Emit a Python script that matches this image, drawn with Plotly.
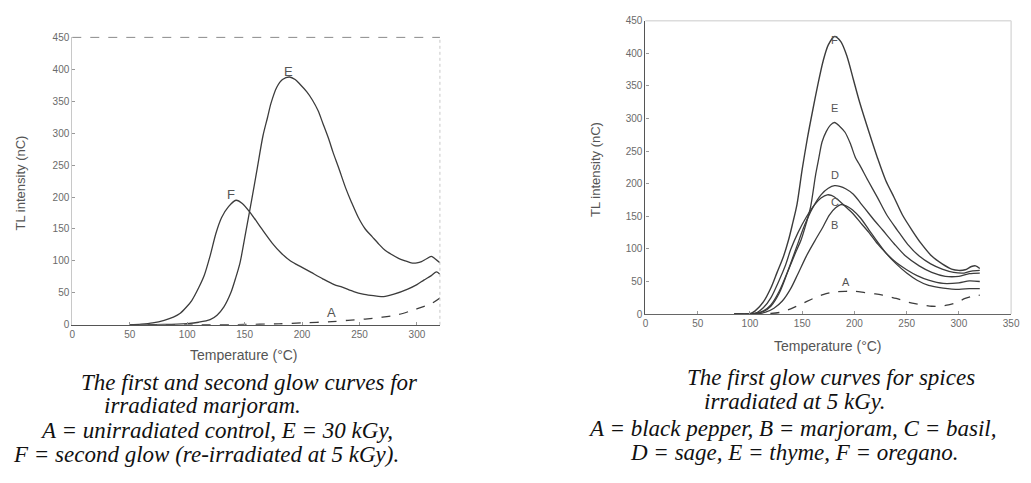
import plotly.graph_objects as go

# ---------------- Left panel: marjoram (first & second glow) ----------------
left_E_T = [50, 80, 100, 110, 120, 126, 132, 138, 142, 146, 151, 156, 161, 166, 170, 173, 178, 183, 189,
            194, 198, 204, 209, 214, 218, 223, 227, 232, 238, 243, 249, 255, 261, 267, 272, 278, 284, 290,
            295, 300, 304, 308, 312.5, 316, 320]
left_E_V = [0, 0.5, 2, 4, 8, 15, 28, 50, 72, 97, 145, 194, 245, 296, 325, 347, 372, 384, 388,
            384, 377, 365, 352, 335, 316, 292, 270, 245, 214, 192, 168, 150, 138, 126, 117, 110, 104, 100,
            97, 97, 99, 103, 107, 103, 97]

left_F_T = [50, 60, 70, 80, 88, 94, 99, 104, 110, 115, 120, 125, 130, 136, 142.5, 148, 156, 165, 174, 182,
            190, 200, 208, 218, 228, 235, 245, 253, 260, 265, 271, 280, 292, 300, 306, 312.5, 317, 320]
left_F_V = [0, 1, 3, 7, 12, 18, 27, 38, 58, 78, 108, 143, 168, 185, 195, 190, 173, 150, 128, 112,
            100, 90, 82, 72, 63, 59, 52, 48, 46, 45, 44, 48, 56, 63, 70, 77, 83, 79]

left_A_T = [50, 100, 150, 180, 200, 226, 240, 255, 270, 284, 295, 305, 312.5, 320]
left_A_V = [0, 0, 0.5, 1.5, 3, 5, 7, 9, 12, 16, 22, 28, 33, 42]

left_labels = ["E", "F", "A"]
left_label_T = [188, 138, 226]
left_label_V = [397, 204, 19]

# ---------------- Right panel: spices at 5 kGy ----------------
right_F_T = [85, 100, 105, 113, 120, 126, 132, 137, 141, 145, 150, 155, 160, 165, 170, 175, 181, 187, 193,
             199, 205, 214, 222, 230, 238, 246, 255, 264, 274, 284, 293, 300, 306, 312, 316, 320]
right_F_V = [0, 0.5, 5, 19, 40, 64, 88, 114, 140, 168, 222, 270, 312, 352, 388, 413, 426, 418, 395,
             360, 325, 279, 240, 205, 179, 152, 129, 108, 89, 77, 69, 67, 68, 73, 74, 70]

right_E_T = [85, 95, 105, 113, 120, 128, 136, 143, 149, 154, 158, 163, 166, 169, 173, 177, 181, 186, 191,
             196, 201, 205, 213, 222, 231, 241, 251, 262, 273, 284, 295, 305, 312, 320]
right_E_V = [0, 0, 1, 4, 12, 32, 64, 92, 114, 140, 164, 215, 240, 264, 280, 290, 294, 288, 279,
             262, 240, 229, 205, 179, 152, 129, 107, 89, 77, 69, 64, 63, 66, 67]

right_D_T = [85, 95, 105, 113, 120, 128, 136, 144, 152, 160, 168, 175, 181, 186, 192, 199, 206, 214, 220,
             227, 238, 249, 262, 274, 287, 300, 310, 320]
right_D_V = [0, 0, 1, 5, 14, 35, 65, 100, 135, 163, 183, 193, 197, 196, 192, 184, 170, 154, 142,
             129, 108, 89, 74, 64, 58, 58, 62, 63]

right_C_T = [85, 95, 105, 113, 120, 128, 134, 139, 146, 154, 162, 168, 174, 178, 184, 190, 198, 206, 214,
             222, 230, 240, 250, 260, 271, 285, 300, 310, 320]
right_C_V = [0, 0, 1, 10, 25, 52, 75, 99, 125, 149, 168, 178, 183, 182, 176, 167, 155, 140, 125,
             108, 94, 79, 68, 59, 52, 47, 48, 51, 50]

right_B_T = [85, 105, 115, 123, 131, 139, 146, 154, 162, 170, 176, 182, 187, 192, 198, 206, 214, 222, 230,
             240, 250, 260, 271, 285, 300, 310, 320]
right_B_V = [0, 0, 3, 9, 20, 39, 62, 89, 112, 134, 152, 163, 168, 166, 160, 147, 129, 111, 94,
             77, 63, 52, 44, 40, 38, 39, 39]

right_A_T = [85, 100, 120, 130, 139, 146, 154, 162, 170, 180, 192, 200, 210, 220, 227, 240, 250, 258, 266,
             274, 282, 290, 298, 306, 312, 320]
right_A_V = [0, 0, 1, 3, 8, 13, 19, 25, 30, 34, 35, 35, 33, 31, 29, 24, 19, 16, 14,
             12, 12, 14, 18, 24, 27, 29]

right_labels = ["F", "E", "D", "C", "B", "A"]
right_label_T = [181, 181, 181, 181, 181, 192]
right_label_V = [421, 316, 214, 172, 136, 50]

x_ticks_left = [0, 50, 100, 150, 200, 250, 300]
x_ticks_right = [0, 50, 100, 150, 200, 250, 300, 350]
y_ticks = [0, 50, 100, 150, 200, 250, 300, 350, 400, 450]

x_title = "Temperature (°C)"
y_title = "TL intensity (nC)"

left_caption = ["The first and second glow curves for",
                "irradiated marjoram.",
                "A = unirradiated control, E = 30 kGy,",
                "F = second glow (re-irradiated at 5 kGy)."]
right_caption = ["The first glow curves for spices",
                 "irradiated at 5 kGy.",
                 "A = black pepper, B = marjoram, C = basil,",
                 "D = sage, E = thyme, F = oregano."]

# ---------------- Figure ----------------
OFF = 8                      # default page body margin around the figure
W, H = 1031 - OFF, 483 - 2 * OFF   # figure fits the window without scrolling
LINE = "#3c3c3c"

fig = go.Figure()


def add_curve(xs, ys, xa, ya, dash="solid", width=1.3):
    fig.add_trace(go.Scatter(x=xs, y=ys, xaxis=xa, yaxis=ya, mode="lines",
                             line=dict(color=LINE, width=width, dash=dash, shape="spline", smoothing=0.8),
                             hoverinfo="skip", showlegend=False))


add_curve(left_E_T, left_E_V, "x", "y")
add_curve(left_F_T, left_F_V, "x", "y")
add_curve(left_A_T, left_A_V, "x", "y", dash="dash")

add_curve(right_F_T, right_F_V, "x2", "y2", width=1.4)
add_curve(right_E_T, right_E_V, "x2", "y2")
add_curve(right_D_T, right_D_V, "x2", "y2")
add_curve(right_C_T, right_C_V, "x2", "y2")
add_curve(right_B_T, right_B_V, "x2", "y2")
add_curve(right_A_T, right_A_V, "x2", "y2", dash="dash")


def px_x(p):
    return (p - OFF) / W


def px_y(p):
    return 1 - (p - OFF) / H


tick_font = dict(family="Liberation Sans, Arial, sans-serif", size=10, color="#6a6a6a")
axis_common = dict(showgrid=False, zeroline=False, ticks="inside", ticklen=3, tickcolor="#999",
                   tickfont=tick_font, showline=True, fixedrange=True)

fig.update_layout(
    width=W, height=H,
    margin=dict(l=0, r=0, t=0, b=0),
    paper_bgcolor="white", plot_bgcolor="white",
    xaxis=dict(domain=[px_x(70), px_x(442)], range=[0, 320], tickvals=x_ticks_left,
               anchor="y", linecolor="#555", linewidth=1.2, **axis_common),
    yaxis=dict(domain=[px_y(327), px_y(32)], range=[0, 450], tickvals=y_ticks,
               anchor="x", linecolor="#c8c8c8", linewidth=1, **axis_common),
    xaxis2=dict(domain=[px_x(650), px_x(1020)], range=[0, 350], tickvals=x_ticks_right,
                anchor="y2", linecolor="#666", linewidth=1.2, **axis_common),
    yaxis2=dict(domain=[px_y(316), px_y(15)], range=[0, 450], tickvals=y_ticks,
                anchor="x2", linecolor="#555", linewidth=1.2, **axis_common),
)

# frame top/right edges
fig.add_shape(type="line", xref="x domain", yref="y domain", x0=0, x1=1, y0=1, y1=1,
              line=dict(color="#8a8a8a", width=1, dash="dash"))
fig.add_shape(type="line", xref="x domain", yref="y domain", x0=1, x1=1, y0=0, y1=1,
              line=dict(color="#c8c8c8", width=1, dash="dot"))
fig.add_shape(type="line", xref="x2 domain", yref="y2 domain", x0=0, x1=1, y0=1, y1=1,
              line=dict(color="#dcdcdc", width=1.5))
fig.add_shape(type="line", xref="x2 domain", yref="y2 domain", x0=1, x1=1, y0=0, y1=1,
              line=dict(color="#dcdcdc", width=1.5))

lab_font_l = dict(family="Liberation Sans, Arial, sans-serif", size=13, color="#555")
lab_font_r = dict(family="Liberation Sans, Arial, sans-serif", size=11, color="#555")
for t, x, y in zip(left_labels, left_label_T, left_label_V):
    fig.add_annotation(x=x, y=y, xref="x", yref="y", text=t, showarrow=False, font=lab_font_l,
                       xanchor="center", yanchor="middle")
for t, x, y in zip(right_labels, right_label_T, right_label_V):
    fig.add_annotation(x=x, y=y, xref="x2", yref="y2", text=t, showarrow=False, font=lab_font_r,
                       xanchor="center", yanchor="middle")

xt_font = dict(family="Liberation Sans, Arial, sans-serif", size=14, color="#555")
yt_font = dict(family="Liberation Sans, Arial, sans-serif", size=13, color="#555")
fig.add_annotation(x=px_x(244), y=px_y(358), xref="paper", yref="paper", text=x_title,
                   showarrow=False, font=xt_font, xanchor="center", yanchor="middle")
fig.add_annotation(x=px_x(835), y=px_y(349), xref="paper", yref="paper", text=x_title,
                   showarrow=False, font=xt_font, xanchor="center", yanchor="middle")
fig.add_annotation(x=px_x(18), y=px_y(181), xref="paper", yref="paper", text=y_title,
                   showarrow=False, font=yt_font, textangle=-90, xanchor="center", yanchor="middle")
fig.add_annotation(x=px_x(600), y=px_y(168), xref="paper", yref="paper", text=y_title,
                   showarrow=False, font=yt_font, textangle=-90, xanchor="center", yanchor="middle")

cap_font = dict(family="Liberation Serif, Times New Roman, serif", size=23, color="#111")
left_cap_pos = [(77, 386), (100, 410), (35, 435), (8, 460)]
right_cap_pos = [(690, 381), (707, 406), (590, 433), (632, 458)]
for txt, (cx, cy) in zip(left_caption, left_cap_pos):
    fig.add_annotation(x=px_x(cx), y=px_y(cy), xref="paper", yref="paper", text=f"<i>{txt}</i>",
                       showarrow=False, xanchor="left", yanchor="middle", font=cap_font)
for txt, (cx, cy) in zip(right_caption, right_cap_pos):
    fig.add_annotation(x=px_x(cx), y=px_y(cy), xref="paper", yref="paper", text=f"<i>{txt}</i>",
                       showarrow=False, xanchor="left", yanchor="middle", font=cap_font)

fig.write_html("out.html")
